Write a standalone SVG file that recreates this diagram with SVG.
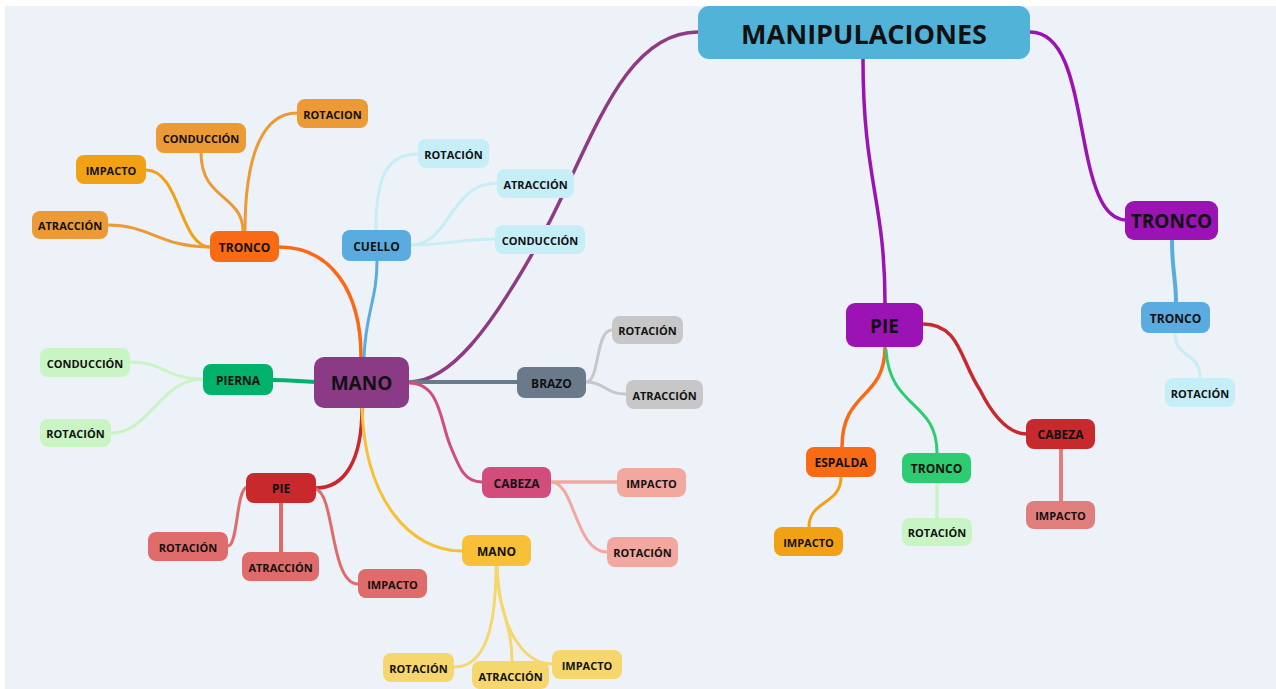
<svg xmlns="http://www.w3.org/2000/svg" width="1276" height="689" viewBox="0 0 1276 689">
<style>
text{font-family:"Open Sans","Liberation Sans",sans-serif;font-weight:700;fill:#111;text-anchor:middle;dominant-baseline:central}
.t3{font-size:11px}
.t2{font-size:12px}
.t1{font-size:19px}
.c path{fill:none;stroke-linecap:round}
</style>
<rect width="1276" height="689" fill="#fff"/>
<rect x="5" y="6" width="1271" height="683" fill="#EDF2F9"/>
<g class="c" id="connectors">
<!-- root -->
<path d="M698 32 C620 32 590 150 540 240 C490 330 450 382 409 382" stroke="#8E3A84" stroke-width="3.5"/>
<path d="M863 59 C863 180 885 200 885 303" stroke="#9B12B5" stroke-width="3.5"/>
<path d="M1030 32 C1070 32 1075 100 1088 160 C1098 205 1110 220 1127 220" stroke="#9B12B5" stroke-width="3.5"/>
<!-- MANO level2 -->
<path d="M361 357 C361 290 330 247 279 247" stroke="#F96A14" stroke-width="3.5"/>
<path d="M364 357 C366 310 377 300 377 261" stroke="#5AACE0" stroke-width="3"/>
<path d="M315 382 C295 381 290 380 273 380" stroke="#00B26B" stroke-width="4"/>
<path d="M362 408 C362 460 345 488 316 488" stroke="#C8292C" stroke-width="3.5"/>
<path d="M362 408 C365 500 410 551 462 551" stroke="#F8C036" stroke-width="3"/>
<path d="M409 382 C450 382 480 382 517 382" stroke="#6B7A8A" stroke-width="4"/>
<path d="M409 383 C440 383 440 420 450 445 C460 470 465 482 482 482" stroke="#D24D7B" stroke-width="3"/>
<!-- TRONCO children -->
<path d="M245 231 C245 150 265 113 297 113" stroke="#EC9A35" stroke-width="3"/>
<path d="M243 231 C243 195 201 200 201 153" stroke="#EC9A35" stroke-width="3"/>
<path d="M210 247 C180 247 180 170 146 170" stroke="#F2A114" stroke-width="3"/>
<path d="M210 247 C160 247 150 225 108 225" stroke="#EC9A35" stroke-width="3"/>
<!-- CUELLO children -->
<path d="M376 230 C376 180 385 154 418 154" stroke="#C6EEF7" stroke-width="3"/>
<path d="M411 245 C450 245 450 183 497 183" stroke="#C6EEF7" stroke-width="3"/>
<path d="M411 245 C450 245 460 239 495 239" stroke="#C6EEF7" stroke-width="3"/>
<!-- PIERNA children -->
<path d="M203 379 C165 379 165 362 130 362" stroke="#C9F5C4" stroke-width="3"/>
<path d="M203 379 C160 379 150 433 111 433" stroke="#C9F5C4" stroke-width="3"/>
<!-- PIE children -->
<path d="M247 487 C236 490 238 546 228 546" stroke="#E06B6B" stroke-width="3"/>
<path d="M281 503 L281 552" stroke="#E06B6B" stroke-width="4"/>
<path d="M316 489 C335 495 330 584 358 584" stroke="#E06B6B" stroke-width="3"/>
<!-- MANO yellow children -->
<path d="M496 566 C496 640 480 667 454 667" stroke="#F5D76E" stroke-width="3"/>
<path d="M497 566 C497 610 512 620 512 661" stroke="#F5D76E" stroke-width="3"/>
<path d="M497 566 C500 640 530 664 552 664" stroke="#F5D76E" stroke-width="3"/>
<!-- CABEZA children -->
<path d="M551 482 C580 482 590 482 617 482" stroke="#F2A89E" stroke-width="3.5"/>
<path d="M551 482 C575 482 575 552 607 552" stroke="#F2A89E" stroke-width="3"/>
<!-- BRAZO children -->
<path d="M586 382 C600 382 595 330 612 330" stroke="#C7C7C7" stroke-width="3"/>
<path d="M586 382 C605 382 605 394 626 394" stroke="#C7C7C7" stroke-width="3"/>
<!-- PIE right -->
<path d="M885 347 C885 400 842 390 842 447" stroke="#F96A14" stroke-width="3.5"/>
<path d="M886 350 C890 410 937 400 937 453" stroke="#2ECC71" stroke-width="3"/>
<path d="M923 324 C960 324 960 360 980 390 C995 420 1010 434 1027 434" stroke="#C8292C" stroke-width="3.5"/>
<path d="M841 477 C841 505 809 500 809 527" stroke="#F2A114" stroke-width="3"/>
<path d="M937 483 L937 518" stroke="#C9F5C4" stroke-width="3.5"/>
<path d="M1061 449 L1061 501" stroke="#E07E7E" stroke-width="4"/>
<!-- TRONCO right -->
<path d="M1172 240 C1172 270 1176 280 1176 302" stroke="#5AACE0" stroke-width="4"/>
<path d="M1175 333 C1175 360 1200 350 1200 378" stroke="#C6EEF7" stroke-width="3"/>
</g>
<g id="n-manipulaciones"><rect x="698" y="6" width="332" height="53" rx="11" fill="#52B3D9"/><text x="864" y="33" font-size="27">MANIPULACIONES</text></g>
<g id="n-mano"><rect x="314" y="357" width="95" height="51" rx="10" fill="#8B3A86"/><text class="t1" x="361.5" y="383">MANO</text></g>
<g id="n-pie-r"><rect x="846" y="303" width="77" height="44" rx="9" fill="#9B12B5"/><text class="t1" x="884.5" y="326">PIE</text></g>
<g id="n-tronco-r"><rect x="1125" y="201" width="93" height="39" rx="9" fill="#9B12B5"/><text class="t1" x="1171.5" y="221">TRONCO</text></g>

<g id="n-tronco"><rect x="210" y="231" width="69" height="31" rx="8" fill="#F96A14"/><text class="t2" x="244.5" y="247">TRONCO</text></g>
<g id="n-cuello"><rect x="342" y="230" width="69" height="31" rx="8" fill="#5AACE0"/><text class="t2" x="376.5" y="246">CUELLO</text></g>
<g id="n-pierna"><rect x="203" y="364" width="70" height="31" rx="8" fill="#00B26B"/><text class="t2" x="238" y="380">PIERNA</text></g>
<g id="n-pie"><rect x="246" y="473" width="70" height="30" rx="8" fill="#C8292C"/><text class="t2" x="281" y="488.5">PIE</text></g>
<g id="n-mano-y"><rect x="462" y="535" width="69" height="31" rx="8" fill="#F8C036"/><text class="t2" x="496.5" y="551">MANO</text></g>
<g id="n-cabeza"><rect x="482" y="467" width="69" height="31" rx="8" fill="#D24D7B"/><text class="t2" x="516.5" y="483">CABEZA</text></g>
<g id="n-brazo"><rect x="517" y="367" width="69" height="31" rx="8" fill="#6B7A8A"/><text class="t2" x="551.5" y="383">BRAZO</text></g>

<g id="n-t-rotacion"><rect x="297" y="99" width="71" height="29" rx="8" fill="#EC9A35"/><text class="t3" x="332.5" y="114">ROTACION</text></g>
<g id="n-t-conduccion"><rect x="156" y="123" width="90" height="30" rx="8" fill="#EC9A35"/><text class="t3" x="201" y="138.5">CONDUCCIÓN</text></g>
<g id="n-t-impacto"><rect x="76" y="155" width="70" height="29" rx="8" fill="#F2A114"/><text class="t3" x="111" y="170">IMPACTO</text></g>
<g id="n-t-atraccion"><rect x="32" y="211" width="76" height="28" rx="8" fill="#EC9A35"/><text class="t3" x="70" y="225.5">ATRACCIÓN</text></g>

<g id="n-c-rotacion"><rect x="418" y="139" width="71" height="29" rx="8" fill="#C6EEF7"/><text class="t3" x="453.5" y="154">ROTACIÓN</text></g>
<g id="n-c-atraccion"><rect x="497" y="169" width="77" height="29" rx="8" fill="#C6EEF7"/><text class="t3" x="535.5" y="184">ATRACCIÓN</text></g>
<g id="n-c-conduccion"><rect x="495" y="225" width="90" height="29" rx="8" fill="#C6EEF7"/><text class="t3" x="540" y="240">CONDUCCIÓN</text></g>

<g id="n-p-conduccion"><rect x="40" y="348" width="90" height="29" rx="8" fill="#C9F5C4"/><text class="t3" x="85" y="363">CONDUCCIÓN</text></g>
<g id="n-p-rotacion"><rect x="40" y="419" width="71" height="28" rx="8" fill="#C9F5C4"/><text class="t3" x="75.5" y="433.5">ROTACIÓN</text></g>

<g id="n-pi-rotacion"><rect x="148" y="532" width="80" height="29" rx="8" fill="#E06B6B"/><text class="t3" x="188" y="547">ROTACIÓN</text></g>
<g id="n-pi-atraccion"><rect x="242" y="552" width="77" height="29" rx="8" fill="#E06B6B"/><text class="t3" x="280.5" y="567">ATRACCIÓN</text></g>
<g id="n-pi-impacto"><rect x="358" y="569" width="69" height="29" rx="8" fill="#E06B6B"/><text class="t3" x="392.5" y="584">IMPACTO</text></g>

<g id="n-m-rotacion"><rect x="383" y="653" width="71" height="29" rx="8" fill="#F5D76E"/><text class="t3" x="418.5" y="668">ROTACIÓN</text></g>
<g id="n-m-atraccion"><rect x="472" y="661" width="77" height="28" rx="8" fill="#F5D76E"/><text class="t3" x="510.5" y="676">ATRACCIÓN</text></g>
<g id="n-m-impacto"><rect x="552" y="650" width="70" height="29" rx="8" fill="#F5D76E"/><text class="t3" x="587" y="665">IMPACTO</text></g>

<g id="n-ca-impacto"><rect x="617" y="468" width="69" height="29" rx="8" fill="#F2A89E"/><text class="t3" x="651.5" y="483">IMPACTO</text></g>
<g id="n-ca-rotacion"><rect x="607" y="537" width="71" height="30" rx="8" fill="#F2A89E"/><text class="t3" x="642.5" y="552.5">ROTACIÓN</text></g>

<g id="n-b-rotacion"><rect x="612" y="316" width="71" height="28" rx="8" fill="#C7C7C7"/><text class="t3" x="647.5" y="330.5">ROTACIÓN</text></g>
<g id="n-b-atraccion"><rect x="626" y="380" width="77" height="29" rx="8" fill="#C7C7C7"/><text class="t3" x="664.5" y="395">ATRACCIÓN</text></g>

<g id="n-espalda"><rect x="806" y="447" width="70" height="30" rx="8" fill="#F96A14"/><text class="t2" x="841" y="462.5">ESPALDA</text></g>
<g id="n-tronco-g"><rect x="902" y="453" width="69" height="30" rx="8" fill="#2ECC71"/><text class="t2" x="936.5" y="468.5">TRONCO</text></g>
<g id="n-cabeza-r"><rect x="1026" y="419" width="69" height="30" rx="8" fill="#C8292C"/><text class="t2" x="1060.5" y="434.5">CABEZA</text></g>
<g id="n-e-impacto"><rect x="774" y="527" width="69" height="29" rx="8" fill="#F2A114"/><text class="t3" x="808.5" y="542">IMPACTO</text></g>
<g id="n-tg-rotacion"><rect x="902" y="518" width="70" height="28" rx="8" fill="#C9F5C4"/><text class="t3" x="937" y="532.5">ROTACIÓN</text></g>
<g id="n-cr-impacto"><rect x="1026" y="501" width="69" height="28" rx="8" fill="#E07E7E"/><text class="t3" x="1060.5" y="515.5">IMPACTO</text></g>

<g id="n-tronco-b"><rect x="1141" y="302" width="69" height="31" rx="8" fill="#5AACE0"/><text class="t2" x="1175.5" y="318">TRONCO</text></g>
<g id="n-tb-rotacion"><rect x="1165" y="378" width="70" height="29" rx="8" fill="#C6EEF7"/><text class="t3" x="1200" y="393">ROTACIÓN</text></g>
</svg>
